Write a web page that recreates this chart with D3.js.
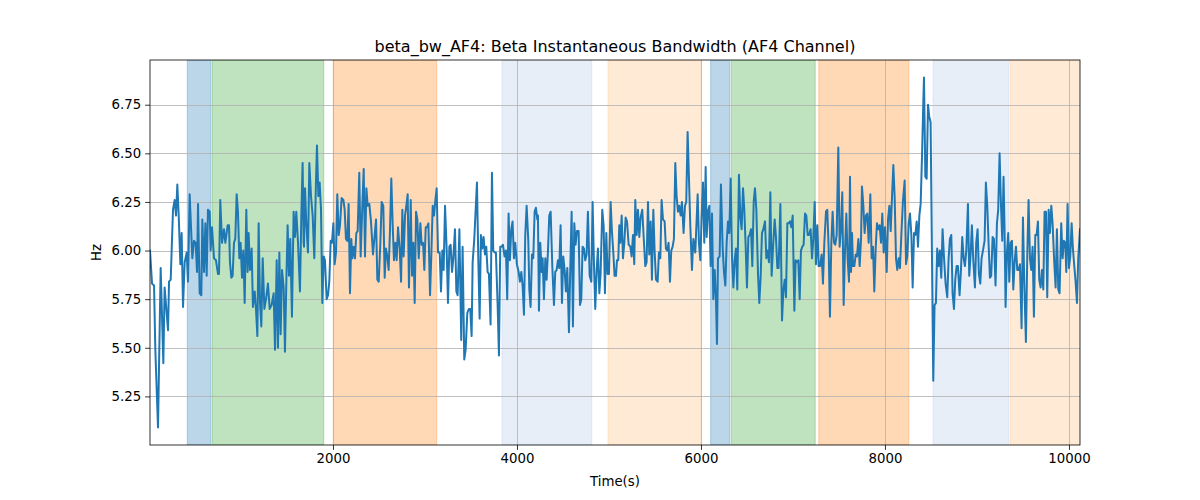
<!DOCTYPE html>
<html>
<head>
<meta charset="utf-8">
<script src="https://cdn.jsdelivr.net/npm/d3@7"></script>
<style>
  html, body { margin: 0; padding: 0; background: #ffffff; }
  svg { display: block; font-family: "DejaVu Sans", sans-serif; }
</style>
</head>
<body>
<svg id="chart" width="1200" height="500"></svg>
<script>
// ---- data ----
const chartTitle = "beta_bw_AF4: Beta Instantaneous Bandwidth (AF4 Channel)";
const xLabel = "Time(s)";
const yLabel = "Hz";
const xTicks = [2000, 4000, 6000, 8000, 10000];
const yTicks = [5.25, 5.50, 5.75, 6.00, 6.25, 6.50, 6.75];

const times = [
  11,33,55,69,98,127,156,170,207,218,236,261,279,294,308,323,341,355,370,388,410,424,442,471,489,507,522,533,551,569,580,598,613,627,641,660,670,685,707,728,750,761,775,794,815,830,
  855,870,880,895,909,924,938,953,967,982,996,1011,1025,1040,1058,1072,1083,1098,1116,1130,1149,1163,1178,1192,1207,1221,1236,1254,1272,1293,1312,1333,1355,1370,1388,1402,1417,1431,1446,1464,1478,1493,1507,1522,1536,1554,1572,1587,1601,1620,1641,1656,1670,1681,
  1685,1696,1710,1728,1743,1761,1779,1797,1815,1826,1841,1855,1870,1884,1899,1913,1931,1946,1960,1975,1989,2004,2018,2033,2047,2062,2076,2094,2113,2127,2141,2156,2170,2185,2199,2210,2225,2239,2254,2268,2286,2301,2319,2334,2348,2363,2377,2395,2413,2435,2453,2468,2482,2497,2515,2529,
  2547,2562,2576,2591,2605,2620,2634,2649,2663,2678,2692,2707,2725,2740,2754,2768,2783,2797,2812,2826,2845,2859,2874,2888,2903,2917,2932,2950,2964,2979,2993,3008,3022,3037,3055,3069,3084,3098,3113,3127,3142,3160,3174,3189,3203,3218,3236,3250,3265,3279,3294,3308,3326,3341,3355,3374,
  3394,3409,3427,3442,3460,3478,3492,3507,3518,3536,3550,3565,3579,3594,3608,3623,3637,3652,3666,3681,3695,3713,3728,3742,3757,3771,3789,3804,3818,3833,3847,3865,3880,3894,3909,3923,3938,3952,3967,3981,3999,4018,4032,4047,4061,4076,4090,4105,4123,4134,4148,4163,4177,4192,4206,4221,
  4228,4239,4253,4268,4279,4293,4308,4322,4337,4351,4366,4384,4402,4416,4431,4445,4460,4474,4489,4503,4518,4532,4547,4565,4579,4594,4608,4623,4637,4652,4670,4685,4699,4713,4728,4742,4757,4771,4790,4808,4822,4837,4851,4866,4880,4895,4909,4927,4942,4956,4971,4985,5000,5018,5032,5047,5061,
  5076,5087,5101,5112,5123,5138,5152,5167,5181,5196,5214,5232,5246,5261,5275,5286,5301,5315,5330,5344,5362,5377,5395,5409,5424,5438,5453,5467,5482,5496,5511,5529,5543,5558,5572,5587,5605,5619,5634,5648,5663,5677,5692,5706,5721,5735,5750,5764,5779,5793,5811,5826,5840,5855,5869,5884,5902,5917,
  5938,5953,5964,5978,5993,6007,6022,6036,6051,6062,6076,6091,6105,6120,6134,6149,6163,6174,6185,6203,6217,6236,6250,6265,6279,6294,6308,6323,6337,6352,6366,6380,6395,6413,6428,6442,6457,6471,6486,6500,6515,6529,6544,6558,6573,6587,6602,6620,6634,6649,6663,6678,6696,6710,6725,6739,6754,6768,
  6786,6801,6815,6830,6844,6863,6881,6895,6910,6924,6939,6953,6968,6982,6997,7015,7029,7044,7058,7073,7087,7102,7116,7131,7145,7160,7174,7192,7207,7221,7236,7250,7265,7279,7294,7312,7326,7341,7359,7373,7388,7402,7417,7431,7446,7460,7475,7493,7507,7522,7536,7551,7565,7580,7594,7609,7620,
  7631,7642,7653,7667,7682,7696,7711,7725,7740,7750,7765,7779,7794,7808,7823,7841,7855,7870,7884,7899,7913,7928,7942,7957,7971,7986,8000,8019,8033,8048,8062,8077,8091,8105,8120,8134,8149,8163,8178,8196,8214,8229,8243,8258,8272,8287,8301,8316,8330,8345,8359,8374,8388,8403,8413,8424,8439,8453,8468,
  8481,8496,8525,8539,8554,8568,8583,8597,8612,8626,8641,8659,8677,8692,8706,8721,8735,8750,8764,8779,8793,8811,8826,8840,8855,8869,8884,8902,8916,8931,8945,8960,8978,8992,9007,9021,9036,9050,9065,9083,9097,9112,9126,9141,9155,9170,9184,9202,9217,9231,9246,9260,9275,9289,9300,9311,
  9326,9340,9351,9366,9380,9395,9409,9424,9438,9453,9467,9485,9500,9514,9532,9547,9561,9576,9590,9605,9619,9634,9648,9663,9677,9692,9706,9721,9735,9750,9764,9779,9793,9808,9822,9840,9855,9869,9884,9898,9916,9931,9945,9960,9971,9985,10000,10014,10029,10043,10058,10072,10087,10101,10120
];

const bandwidth = [
  6.00,5.83,5.82,5.49,5.09,5.91,5.42,5.81,5.59,5.84,5.85,6.21,6.26,6.18,6.34,6.18,5.93,6.09,5.71,5.94,5.99,5.84,6.29,5.96,6.05,6.04,5.89,6.24,5.78,5.77,6.16,5.89,6.14,5.87,6.21,6.20,6.00,6.12,5.96,5.95,5.88,5.88,6.26,6.04,6.11,6.04,
  6.13,6.13,5.94,5.86,5.87,6.04,6.06,6.29,6.20,5.96,6.04,5.86,6.00,5.73,6.21,5.89,6.09,5.90,6.01,5.71,5.79,5.70,5.56,6.14,5.73,5.61,5.96,5.70,5.75,5.83,5.70,5.72,5.78,5.49,5.95,5.50,5.99,5.57,5.90,5.81,5.48,5.84,6.13,5.87,6.06,5.66,6.20,6.07,6.20,6.04,5.79,6.18,6.45,6.04,
  6.02,6.32,6.14,5.99,6.45,6.28,6.18,5.96,6.35,6.54,6.28,6.35,6.21,5.73,5.97,5.95,5.75,5.77,5.84,6.05,6.04,6.14,5.93,5.99,6.29,6.08,6.13,6.27,6.26,6.21,6.06,6.05,6.24,5.78,6.06,5.96,6.02,5.96,6.09,6.10,6.40,5.97,6.23,6.42,5.97,6.32,6.23,6.24,6.15,5.98,6.08,6.16,5.85,5.84,6.04,6.25,
  6.23,5.86,6.01,5.97,5.90,6.11,6.37,6.13,5.95,6.04,5.95,6.12,6.01,5.84,6.21,5.97,6.18,6.23,6.29,5.81,6.26,5.87,6.04,5.73,6.20,6.16,5.96,6.14,6.03,6.04,5.90,6.12,6.12,6.14,5.77,5.98,6.23,6.18,6.26,6.32,5.99,5.99,5.79,6.00,5.90,6.23,6.00,5.73,6.02,6.03,5.89,5.96,6.11,5.79,5.77,6.11,
  5.54,6.02,5.44,5.49,5.68,5.70,5.70,5.56,5.94,6.06,6.20,6.35,5.97,5.65,6.08,6.01,6.07,5.98,6.02,5.89,5.88,5.62,6.40,6.00,5.99,5.99,5.73,5.46,6.02,6.02,6.03,5.97,6.00,5.75,6.19,5.95,6.11,6.15,5.96,6.04,5.93,5.89,5.84,5.89,5.82,5.67,6.08,6.23,6.05,5.80,5.71,5.98,5.96,6.20,6.22,6.16,
  6.18,5.69,6.04,5.89,5.96,5.75,5.96,5.85,6.00,6.18,6.20,5.92,5.72,5.89,5.90,5.95,5.91,6.13,5.73,5.97,5.90,5.79,5.91,5.58,5.90,6.20,5.61,6.14,6.03,6.10,6.10,5.72,5.75,6.02,6.01,5.95,5.98,6.20,5.87,5.84,6.25,5.93,5.70,5.90,6.01,5.78,5.88,6.21,6.13,5.78,6.09,5.88,5.88,6.25,6.10,5.99,5.87,
  5.87,5.95,5.95,6.13,6.04,6.18,5.96,6.04,6.17,6.15,6.03,6.02,5.97,6.08,5.93,6.26,6.08,6.21,6.07,6.17,6.21,6.07,5.92,5.94,6.25,5.98,6.15,5.85,6.21,6.00,5.85,5.84,5.99,5.96,6.26,6.16,6.15,6.01,6.00,6.04,5.84,6.00,6.02,6.06,6.45,6.28,6.20,6.23,6.18,6.25,6.09,6.23,6.25,6.61,6.38,6.13,5.90,6.06,
  5.99,6.16,6.29,6.04,5.95,6.17,6.35,6.04,6.43,6.07,6.20,6.23,5.92,6.19,5.75,5.90,5.75,5.52,5.96,5.97,6.34,6.01,5.89,5.82,6.04,6.15,6.09,6.37,5.97,5.81,5.95,6.01,5.80,6.39,6.17,6.11,6.32,6.21,6.02,5.81,6.07,6.08,6.11,5.92,6.25,6.32,6.21,5.88,5.73,5.87,6.09,6.11,6.15,5.96,6.00,5.94,6.30,5.87,
  6.04,6.16,6.07,5.91,5.91,6.24,5.64,5.79,5.85,5.76,6.14,6.14,6.15,6.12,6.18,5.69,5.95,5.94,5.95,5.75,6.00,6.02,6.03,6.19,6.18,6.08,6.08,6.11,5.96,6.06,6.25,5.93,6.13,5.92,5.92,5.98,5.83,6.04,6.20,6.21,6.01,5.66,6.04,6.20,6.04,6.03,6.08,6.53,6.02,6.11,6.30,5.72,5.99,6.19,5.96,5.84,6.38,
  5.89,6.09,5.92,5.92,5.98,5.97,6.06,5.92,6.06,6.33,6.23,6.09,6.18,6.19,6.04,6.29,5.96,6.02,5.79,6.01,6.14,6.11,6.13,6.04,6.19,5.99,6.12,5.89,6.16,6.23,6.10,6.28,6.44,6.28,5.96,5.90,5.96,5.91,6.08,6.26,6.36,5.93,5.97,6.14,6.19,6.08,5.81,6.09,6.08,6.15,6.02,6.18,6.24,6.49,6.69,6.89,6.38,6.37,6.75,
  6.69,6.66,5.33,5.72,5.73,6.01,5.92,6.00,5.86,6.11,5.97,5.83,5.76,5.96,6.06,6.08,5.78,5.70,5.85,5.92,5.92,5.77,5.90,6.07,5.96,5.92,6.00,6.24,5.87,5.98,6.13,5.95,5.81,6.04,6.11,5.88,5.83,5.96,6.00,6.05,6.35,6.23,6.04,5.86,5.87,6.07,6.06,5.82,6.14,6.21,6.50,6.25,6.05,6.38,6.11,5.71,
  5.99,6.09,5.84,6.04,6.05,5.80,5.94,6.02,5.90,5.90,5.93,5.60,6.17,5.84,5.53,5.98,6.26,5.96,5.90,6.02,5.66,6.08,6.08,6.15,5.85,5.81,5.90,5.80,6.20,6.20,5.76,6.21,6.09,6.23,6.14,5.94,5.81,6.11,5.80,5.78,6.14,5.96,6.05,6.04,5.89,6.24,5.91,5.97,6.14,6.01,5.92,5.84,5.73,5.96,6.11
];

const bandStart = [416, 685, 2003, 3837, 4989, 6105, 6330, 7280, 8522, 9360];
const bandEnd   = [671, 1900, 3128, 4813, 6000, 6314, 7242, 8260, 9345, 10120];
const bandKind  = ["A", "B", "C", "D", "E", "A", "B", "C", "D", "E"];

// ---- layout / style ----
const W = 1200, H = 500;
const plot = { left: 150, right: 1080, top: 60, bottom: 445 };
const kindColor = { A: "#1f77b4", B: "#2ca02c", C: "#ff7f0e", D: "#aec7e8", E: "#ffbb78" };

const svg = d3.select("#chart");
svg.append("rect").attr("width", W).attr("height", H).attr("fill", "#ffffff");

const x = d3.scaleLinear().domain([d3.min(times), d3.max(times)]).range([plot.left, plot.right]);
const yMin = d3.min(bandwidth), yMax = d3.max(bandwidth), yPad = (yMax - yMin) * 0.05;
const y = d3.scaleLinear().domain([yMin - yPad, yMax + yPad]).range([plot.bottom, plot.top]);

svg.append("defs").append("clipPath").attr("id", "clip")
  .append("rect").attr("x", plot.left).attr("y", plot.top)
  .attr("width", plot.right - plot.left).attr("height", plot.bottom - plot.top);

const bands = bandStart.map((s, i) => ({ s, e: bandEnd[i], k: bandKind[i] }));
svg.append("g").attr("clip-path", "url(#clip)")
  .selectAll("rect").data(bands).join("rect")
  .attr("x", d => x(d.s)).attr("width", d => x(d.e) - x(d.s))
  .attr("y", plot.top).attr("height", plot.bottom - plot.top)
  .attr("fill", d => kindColor[d.k]).attr("fill-opacity", 0.3)
  .attr("stroke", d => kindColor[d.k]).attr("stroke-opacity", 0.3).attr("stroke-width", 1);

// grid
const grid = svg.append("g").attr("stroke", "#b0b0b0").attr("stroke-width", 0.8);
grid.selectAll("line.gx").data(xTicks).join("line")
  .attr("x1", d => Math.round(x(d)) + 0.5).attr("x2", d => Math.round(x(d)) + 0.5)
  .attr("y1", plot.top).attr("y2", plot.bottom);
grid.selectAll("line.gy").data(yTicks).join("line")
  .attr("y1", d => Math.round(y(d)) + 0.5).attr("y2", d => Math.round(y(d)) + 0.5)
  .attr("x1", plot.left).attr("x2", plot.right);

// line
const pts = times.map((t, i) => [t, bandwidth[i]]);
svg.append("path").datum(pts).attr("clip-path", "url(#clip)")
  .attr("fill", "none").attr("stroke", "#1f77b4").attr("stroke-width", 2)
  .attr("stroke-linejoin", "round").attr("stroke-linecap", "square")
  .attr("d", d3.line().x(d => x(d[0])).y(d => y(d[1])));

// axes
const xAxis = d3.axisBottom(x).tickValues(xTicks).tickFormat(d3.format("d")).tickSize(4.9).tickPadding(4);
const yAxis = d3.axisLeft(y).tickValues(yTicks).tickFormat(d3.format(".2f")).tickSize(4.9).tickPadding(4);
const gx = svg.append("g").attr("transform", `translate(0,${plot.bottom})`).call(xAxis);
const gy = svg.append("g").attr("transform", `translate(${plot.left},0)`).call(yAxis);
[gx, gy].forEach(g => {
  g.select(".domain").remove();
  g.selectAll("text").attr("font-family", "DejaVu Sans").attr("font-size", 13.3).attr("fill", "#000");
  g.selectAll("line").attr("stroke", "#000").attr("stroke-width", 0.8);
});

// frame
svg.append("rect").attr("x", plot.left).attr("y", plot.top)
  .attr("width", plot.right - plot.left).attr("height", plot.bottom - plot.top)
  .attr("fill", "none").attr("stroke", "#000").attr("stroke-width", 0.8);

// text
svg.append("text").attr("x", (plot.left + plot.right) / 2).attr("y", 52)
  .attr("text-anchor", "middle").attr("font-size", 16).attr("fill", "#000").text(chartTitle);
svg.append("text").attr("x", (plot.left + plot.right) / 2).attr("y", 486)
  .attr("text-anchor", "middle").attr("font-size", 13.3).attr("fill", "#000").text(xLabel);
svg.append("text").attr("transform", `translate(101,${(plot.top + plot.bottom) / 2}) rotate(-90)`)
  .attr("text-anchor", "middle").attr("font-size", 13.3).attr("fill", "#000").text(yLabel);
</script>
</body>
</html>
